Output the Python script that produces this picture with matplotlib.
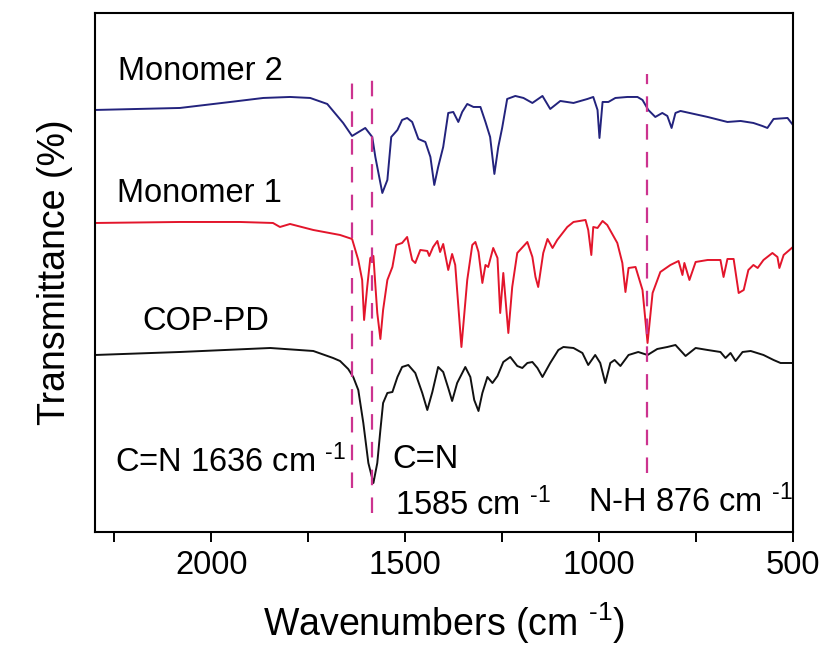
import matplotlib
matplotlib.use("Agg")
import matplotlib.pyplot as plt

plt.rcParams['font.family'] = ['Liberation Sans', 'DejaVu Sans']
plt.rcParams['mathtext.fontset'] = 'custom'
plt.rcParams['mathtext.rm'] = 'Liberation Sans'
plt.rcParams['mathtext.it'] = 'Liberation Sans'
plt.rcParams['mathtext.default'] = 'regular'

# ---- data (wavenumber cm^-1, transmittance in arbitrary offset units) ----
m2_wn = [2300, 2081, 1951, 1866, 1797, 1745, 1701, 1660, 1637, 1603, 1585, 1577, 1559,
         1546, 1536, 1520, 1508, 1495, 1482, 1466, 1448, 1435, 1425, 1415, 1402, 1389,
         1376, 1363, 1353, 1340, 1324, 1306, 1293, 1281, 1270, 1260, 1250, 1237, 1216,
         1195, 1172, 1146, 1126, 1100, 1066, 1030, 1015, 1004, 999, 991, 976, 958, 927,
         901, 888, 873, 855, 837, 824, 813, 803, 790, 720, 669, 635, 602, 579, 566, 550,
         514, 500]
m2_t = [422, 424, 430, 434, 435, 434, 428, 409, 396, 404, 395, 375, 339,
        352, 395, 402, 412, 414, 410, 393, 390, 375, 347, 365, 385, 419,
        420, 410, 420, 428, 425, 425, 410, 395, 358, 385, 404, 433, 436,
        434, 429, 436, 423, 431, 429, 433, 435, 422, 394, 430, 430, 434, 435,
        435, 432, 422, 415, 419, 416, 404, 419, 421, 415, 410, 411, 409, 406, 404, 413,
        414, 407]

m1_wn = [2300, 2081, 1926, 1841, 1823, 1797, 1737, 1668, 1637, 1621, 1611, 1606, 1598,
         1590, 1582, 1577, 1572, 1564, 1557, 1546, 1533, 1523, 1508, 1495, 1482, 1474,
         1461, 1443, 1438, 1428, 1417, 1410, 1402, 1389, 1379, 1371, 1355, 1340, 1327,
         1319, 1311, 1301, 1293, 1286, 1273, 1262, 1255, 1247, 1234, 1224, 1211, 1185,
         1172, 1164, 1157, 1144, 1133, 1120, 1108, 1082, 1066, 1035, 1028, 1020, 1015,
         1004, 991, 979, 953, 940, 932, 924, 906, 888, 875, 862, 842, 816, 795, 785, 780,
         767, 751, 720, 687, 679, 669, 653, 640, 627, 615, 602, 591, 576, 553, 540, 535,
         524, 500]
m1_t = [309, 310, 310, 309, 305, 308, 302, 297, 293, 272, 252, 212, 245,
        274, 276, 247, 219, 193, 222, 252, 265, 287, 289, 295, 272, 269,
        282, 281, 276, 285, 291, 280, 288, 262, 278, 267, 185, 252, 287,
        290, 280, 249, 267, 265, 284, 274, 219, 259, 199, 245, 279, 290,
        275, 255, 245, 279, 293, 284, 292, 305, 310, 312, 302, 277, 305,
        304, 311, 307, 289, 269, 240, 264, 265, 242, 189, 239, 260, 267, 271, 257, 269,
        252, 270, 272, 272, 255, 273, 273, 239, 242, 262, 267, 264, 272, 279, 275, 264,
        277, 285]

cop_wn = [2300, 2081, 1848, 1737, 1686, 1668, 1647, 1634, 1621, 1608, 1595, 1582, 1572,
          1564, 1557, 1546, 1533, 1520, 1508, 1492, 1474, 1456, 1443, 1430, 1415, 1402,
          1389, 1379, 1366, 1345, 1332, 1322, 1311, 1301, 1288, 1275, 1262, 1247, 1229,
          1211, 1198, 1185, 1172, 1159, 1146, 1126, 1105, 1092, 1066, 1043, 1028, 1010,
          997, 984, 971, 960, 945, 924, 899, 875, 850, 824, 803, 777, 751, 720, 687, 674,
          661, 648, 630, 609, 576, 550, 532, 500]
cop_t = [177, 180, 184, 181, 174, 171, 163, 155, 142, 109, 69, 49, 69,
         102, 129, 139, 140, 155, 165, 167, 159, 139, 122, 140, 165, 160,
         144, 131, 149, 165, 155, 132, 121, 139, 155, 149, 156, 170, 175,
         166, 164, 169, 170, 164, 155, 169, 182, 185, 184, 179, 167, 177,
         169, 149, 169, 172, 166, 177, 180, 177, 183, 185, 187, 176, 184, 182, 180, 174,
         179, 171, 180, 181, 177, 172, 169, 169]

marker_wn = [1636, 1585, 876]
marker_lo = [44, 19, 59]
marker_hi = [452, 452, 458]

x_major = [2000, 1500, 1000, 500]
x_minor = [2250, 1750, 1250, 750]

SUP = r'$^{\text{-1}}$'

# ---- figure ----
fig = plt.figure(figsize=(8.26, 6.48), dpi=100)
ax = fig.add_axes([0.115, 0.179, 0.845, 0.801])

ax.plot(m2_wn, m2_t, color='#23237d', lw=1.4)
ax.plot(m1_wn, m1_t, color='#e3152b', lw=1.4)
ax.plot(cop_wn, cop_t, color='#111111', lw=1.4)

for wn, lo, hi in zip(marker_wn, marker_lo, marker_hi):
    ax.plot([wn, wn], [lo, hi], color='#cc338f', lw=1.6, ls=(0, (7, 5.5)))

ax.set_xlim(2300, 500)
ax.set_ylim(0, 519)

ax.set_xticks(x_major)
ax.set_xticks(x_minor, minor=True)
ax.set_xticklabels([str(v) for v in x_major])
ax.tick_params(axis='x', which='both', direction='out', length=7, width=1.4,
               labelsize=23.5, pad=6, top=False)
ax.set_yticks([])
for s in ax.spines.values():
    s.set_linewidth(1.5)

ax.set_xlabel('Wavenumbers (cm ' + SUP + ')', fontsize=27, labelpad=14)
ax.set_ylabel('Transmittance (%)', fontsize=27, labelpad=16)

fs = 23.5
ax.text(2241, 452, 'Monomer 2', fontsize=fs, va='baseline', ha='left')
ax.text(2243, 330, 'Monomer 1', fontsize=fs, va='baseline', ha='left')
ax.text(2179, 202, 'COP-PD', fontsize=fs, va='baseline', ha='left')
ax.text(2248, 60, 'C=N 1636 cm ' + SUP, fontsize=fs, va='baseline', ha='left')
ax.text(1533, 64, 'C=N', fontsize=fs, va='baseline', ha='left')
ax.text(1526, 17, '1585 cm ' + SUP, fontsize=fs, va='baseline', ha='left')
ax.text(1028, 20, 'N-H 876 cm ' + SUP, fontsize=fs, va='baseline', ha='left')

fig.savefig('out.png', dpi=100)
